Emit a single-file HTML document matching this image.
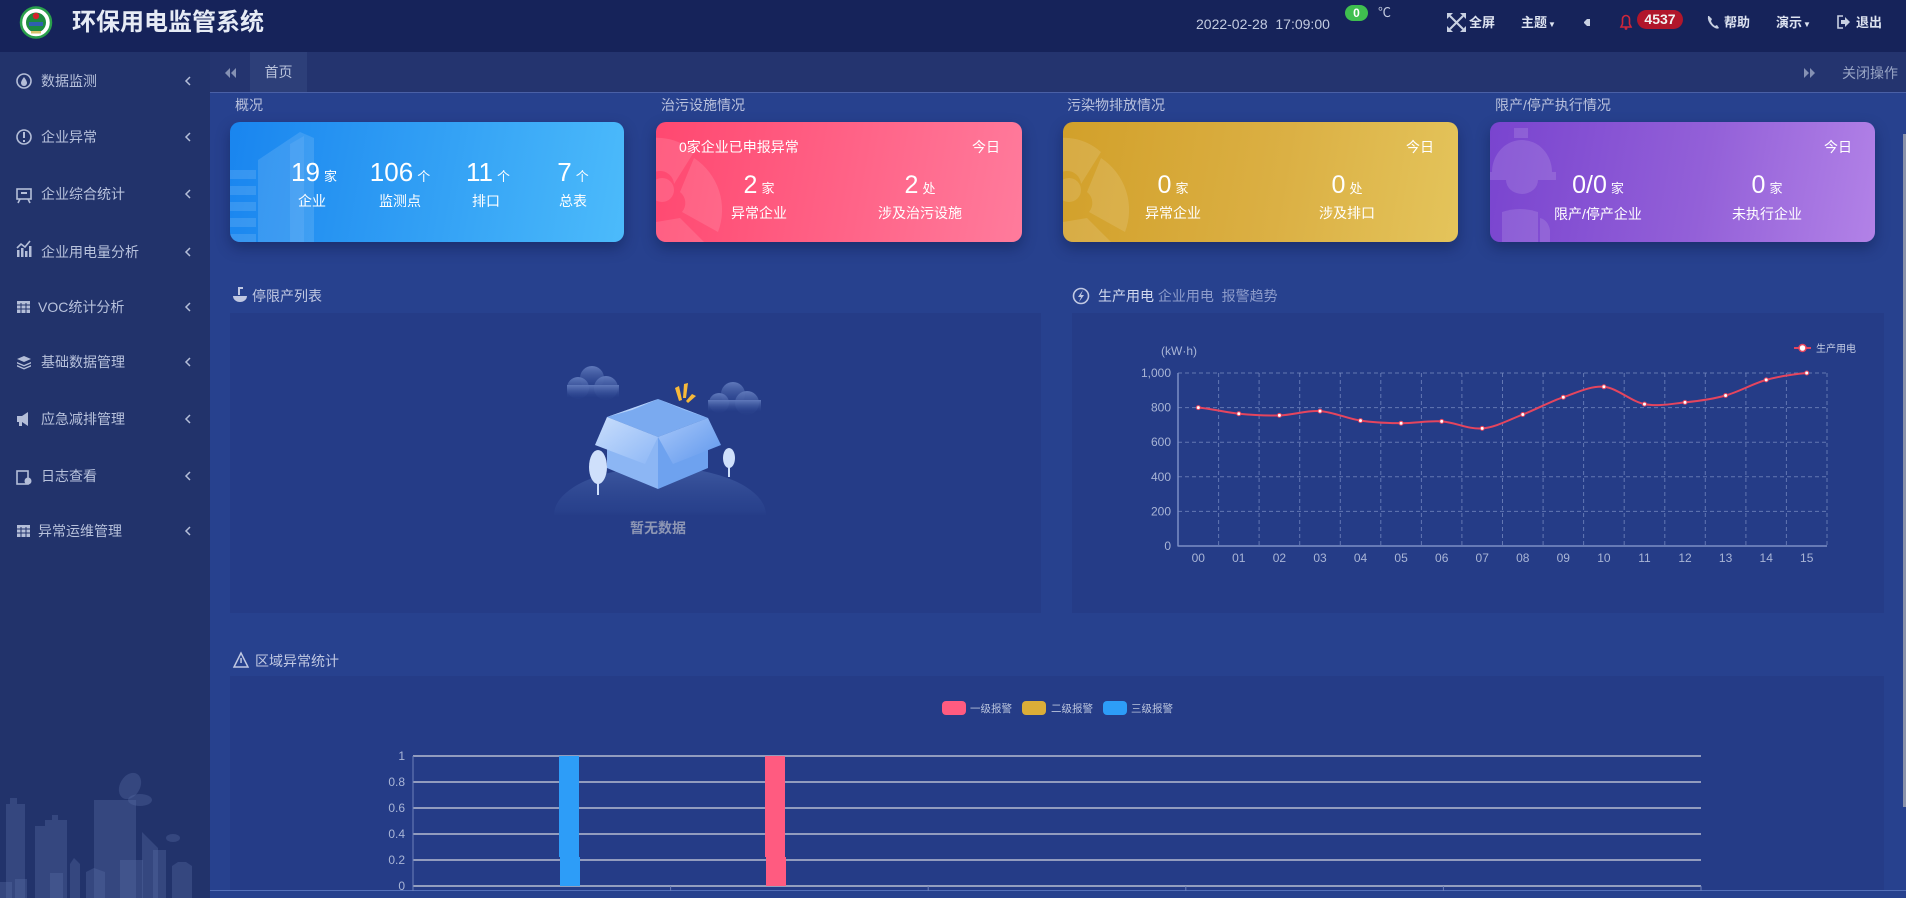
<!DOCTYPE html>
<html><head><meta charset="utf-8">
<style>
*{margin:0;padding:0;box-sizing:border-box}
html,body{width:1906px;height:898px;overflow:hidden;background:#27418e;font-family:"Liberation Sans","Noto Sans CJK SC",sans-serif}
.a{position:absolute;white-space:nowrap}
.menu{position:absolute;left:41px;font-size:14px;line-height:14px;color:#b8c2dc}
.sec{position:absolute;font-size:14px;line-height:14px;color:#b9c1dd}
.card{position:absolute;top:122px;height:120px;border-radius:10px;overflow:hidden;box-shadow:0 6px 14px rgba(5,15,50,.35)}
.col{position:absolute;width:160px;text-align:center;color:#fff;white-space:nowrap}
.num{font-size:26px;line-height:26px}
.unit{font-size:13px;margin-left:4px}
.lbl{position:absolute;width:160px;text-align:center;color:#fff;font-size:14px;line-height:14px;white-space:nowrap}
.panel{position:absolute;background:#253c87}
.hd{position:absolute;font-size:13px;line-height:13px;color:#dde3f0;font-weight:bold}
</style></head><body>

<!-- header -->
<div class="a" style="left:0;top:0;width:1906px;height:52px;background:#16235a"></div>
<div class="a" style="left:72px;top:11px;font-size:24px;line-height:24px;font-weight:bold;color:#e6ebf5;letter-spacing:0">环保用电监管系统</div>
<div class="a" style="left:1196px;top:17px;font-size:14px;line-height:14px;color:#c3cbe0">2022-02-28&nbsp;&nbsp;17:09:00</div>
<div class="a" style="left:1345px;top:5px;width:23px;height:16px;border-radius:8px;background:#3fbf4f;color:#fff;font-size:12px;line-height:16px;font-weight:bold;text-align:center">0</div>
<div class="a" style="left:1378px;top:6px;font-size:13px;line-height:13px;color:#c3cbe0">℃</div>
<div class="hd" style="left:1469px;top:16px">全屏</div>
<div class="hd" style="left:1521px;top:16px">主题<span style="font-size:8px;margin-left:1px">▼</span></div>
<div class="a" style="left:1637px;top:10px;width:46px;height:19px;border-radius:10px;background:#b1162b;color:#f2f2f2;font-size:14px;line-height:19px;font-weight:bold;text-align:center">4537</div>
<div class="hd" style="left:1724px;top:16px">帮助</div>
<div class="hd" style="left:1776px;top:16px">演示<span style="font-size:8px;margin-left:1px">▼</span></div>
<div class="hd" style="left:1856px;top:16px">退出</div>

<!-- sidebar -->
<div class="a" style="left:0;top:52px;width:210px;height:846px;background:#22336b"></div>
<div class="menu" style="top:74px">数据监测</div>
<div class="menu" style="top:130px">企业异常</div>
<div class="menu" style="top:187px">企业综合统计</div>
<div class="menu" style="top:245px">企业用电量分析</div>
<div class="menu" style="top:300px;left:38px">VOC统计分析</div>
<div class="menu" style="top:355px">基础数据管理</div>
<div class="menu" style="top:412px">应急减排管理</div>
<div class="menu" style="top:469px">日志查看</div>
<div class="menu" style="top:524px;left:38px">异常运维管理</div>

<!-- tab bar -->
<div class="a" style="left:210px;top:52px;width:1696px;height:41px;background:#24346f;border-bottom:1px solid #4a60a6"></div>
<div class="a" style="left:250px;top:52px;width:57px;height:40px;background:#2d3f79;color:#b9c3dc;font-size:14px;line-height:40px;text-align:center">首页</div>
<div class="a" style="left:1842px;top:66px;font-size:14px;line-height:14px;color:#98a4c4">关闭操作</div>

<!-- section titles -->
<div class="sec" style="left:235px;top:98px">概况</div>
<div class="sec" style="left:661px;top:98px">治污设施情况</div>
<div class="sec" style="left:1067px;top:98px">污染物排放情况</div>
<div class="sec" style="left:1495px;top:98px">限产/停产执行情况</div>

<!-- card 1 -->
<div class="card" style="left:230px;width:394px;background:linear-gradient(100deg,#1985ef 0%,#34a2f5 55%,#4cbbfb 100%)">
  <svg width="394" height="120" style="position:absolute;left:0;top:0">
    <g fill="rgba(255,255,255,0.12)">
      <polygon points="28,38 70,10 84,16 84,120 28,120"/>
      <polygon points="60,22 74,14 74,120 60,120" fill="rgba(255,255,255,0.08)"/>
      <rect x="0" y="48" width="26" height="9"/>
      <rect x="0" y="64" width="26" height="9"/>
      <rect x="0" y="80" width="26" height="9"/>
      <rect x="0" y="96" width="26" height="9"/>
      <rect x="0" y="112" width="26" height="8"/>
    </g>
  </svg>
</div>
<div class="col" style="left:234px;top:159px"><span class="num">19</span><span class="unit">家</span></div>
<div class="col" style="left:320px;top:159px"><span class="num">106</span><span class="unit">个</span></div>
<div class="col" style="left:408px;top:159px"><span class="num">11</span><span class="unit">个</span></div>
<div class="col" style="left:493px;top:159px"><span class="num">7</span><span class="unit">个</span></div>
<div class="lbl" style="left:232px;top:194px">企业</div>
<div class="lbl" style="left:320px;top:194px">监测点</div>
<div class="lbl" style="left:406px;top:194px">排口</div>
<div class="lbl" style="left:493px;top:194px">总表</div>

<!-- card 2 -->
<div class="card" style="left:656px;width:366px;background:linear-gradient(100deg,#ff4870 0%,#ff6488 55%,#ff7b9c 100%)">
  <svg width="366" height="120" style="position:absolute;left:0;top:0">
    <g fill="rgba(255,255,255,0.12)">
      <path d="M-20,20 A55,55 0 0 1 38,30 L18,62 A12,12 0 0 0 -10,64 Z"/>
      <path d="M38,36 A62,62 0 0 1 62,110 L26,90 A14,14 0 0 0 24,70 Z"/>
      <path d="M24,96 L48,120 L0,120 L0,100 Z"/>
      <circle cx="6" cy="68" r="12"/>
    </g>
  </svg>
</div>
<div class="a" style="left:679px;top:140px;color:#fff;font-size:14px;line-height:14px">0家企业已申报异常</div>
<div class="a" style="left:972px;top:140px;color:#fff;font-size:14px;line-height:14px">今日</div>
<div class="col" style="left:679px;top:172px"><span class="num" style="font-size:25px">2</span><span class="unit">家</span></div>
<div class="col" style="left:840px;top:172px"><span class="num" style="font-size:25px">2</span><span class="unit">处</span></div>
<div class="lbl" style="left:679px;top:206px">异常企业</div>
<div class="lbl" style="left:840px;top:206px">涉及治污设施</div>

<!-- card 3 -->
<div class="card" style="left:1063px;width:395px;background:linear-gradient(100deg,#d2a02a 0%,#dbb044 55%,#e4c45b 100%)">
  <svg width="395" height="120" style="position:absolute;left:0;top:0">
    <g fill="rgba(255,255,255,0.12)">
      <path d="M-20,20 A55,55 0 0 1 38,30 L18,62 A12,12 0 0 0 -10,64 Z"/>
      <path d="M38,36 A62,62 0 0 1 62,110 L26,90 A14,14 0 0 0 24,70 Z"/>
      <path d="M24,96 L48,120 L0,120 L0,100 Z"/>
      <circle cx="6" cy="68" r="12"/>
    </g>
  </svg>
</div>
<div class="a" style="left:1406px;top:140px;color:#fff;font-size:14px;line-height:14px">今日</div>
<div class="col" style="left:1093px;top:172px"><span class="num" style="font-size:25px">0</span><span class="unit">家</span></div>
<div class="col" style="left:1267px;top:172px"><span class="num" style="font-size:25px">0</span><span class="unit">处</span></div>
<div class="lbl" style="left:1093px;top:206px">异常企业</div>
<div class="lbl" style="left:1267px;top:206px">涉及排口</div>

<!-- card 4 -->
<div class="card" style="left:1490px;width:385px;background:linear-gradient(100deg,#7944cf 0%,#9360d8 55%,#b282e7 100%)">
  <svg width="385" height="120" style="position:absolute;left:0;top:0">
    <g fill="rgba(255,255,255,0.13)">
      <rect x="24" y="6" width="14" height="10"/>
      <path d="M2,50 A30,32 0 0 1 62,50 L66,50 L66,58 L0,58 L0,50 Z"/>
      <path d="M16,58 L48,58 A16,14 0 0 1 16,58 Z"/>
      <path d="M12,90 Q30,84 48,90 L48,120 L12,120 Z"/>
      <path d="M50,96 Q58,98 60,108 L60,120 L50,120 Z"/>
    </g>
  </svg>
</div>
<div class="a" style="left:1824px;top:140px;color:#fff;font-size:14px;line-height:14px">今日</div>
<div class="col" style="left:1518px;top:172px"><span class="num" style="font-size:25px">0/0</span><span class="unit">家</span></div>
<div class="col" style="left:1687px;top:172px"><span class="num" style="font-size:25px">0</span><span class="unit">家</span></div>
<div class="lbl" style="left:1518px;top:207px">限产/停产企业</div>
<div class="lbl" style="left:1687px;top:207px">未执行企业</div>

<!-- panels -->
<div class="panel" style="left:230px;top:313px;width:811px;height:300px"></div>
<div class="panel" style="left:1072px;top:313px;width:812px;height:300px"></div>
<div class="panel" style="left:230px;top:676px;width:1654px;height:215px"></div>
<div class="a" style="left:210px;top:890px;width:1696px;height:1px;background:#5570b8"></div>
<div class="a" style="left:1903px;top:134px;width:3px;height:673px;background:#8a92aa"></div>

<div class="sec" style="left:252px;top:289px;color:#c0c8e2">停限产列表</div>
<div class="a" style="left:1098px;top:289px;font-size:14px;line-height:14px;color:#d2d9ee">生产用电 <span style="color:#8d9ccb">企业用电</span>&nbsp; <span style="color:#8d9ccb">报警趋势</span></div>
<div class="sec" style="left:255px;top:654px;color:#c0c8e2">区域异常统计</div>

<svg class="a" style="left:0;top:0" width="1906" height="898" xmlns="http://www.w3.org/2000/svg" font-family="Liberation Sans, Noto Sans CJK SC, sans-serif">
  <defs>
    <linearGradient id="hill" x1="0" y1="0" x2="0" y2="1">
      <stop offset="0" stop-color="#4662a8" stop-opacity="0.75"/>
      <stop offset="0.45" stop-color="#2f4a95" stop-opacity="0.35"/>
      <stop offset="0.55" stop-color="#253c87" stop-opacity="0"/>
    </linearGradient>
    <clipPath id="hillclip"><rect x="540" y="460" width="240" height="55"/></clipPath>
    <linearGradient id="cloud" x1="0" y1="0" x2="0" y2="1">
      <stop offset="0" stop-color="#6a84c4"/>
      <stop offset="1" stop-color="#2b4590" stop-opacity="0.2"/>
    </linearGradient>
    <linearGradient id="bl" x1="0" y1="0" x2="1" y2="1">
      <stop offset="0" stop-color="#c9defc"/>
      <stop offset="1" stop-color="#8db7f6"/>
    </linearGradient>
    <linearGradient id="br" x1="0" y1="0" x2="1" y2="1">
      <stop offset="0" stop-color="#a8c8fa"/>
      <stop offset="1" stop-color="#5f97ec"/>
    </linearGradient>
  </defs>

  <!-- logo -->
  <circle cx="36" cy="22.5" r="15" fill="#ffffff" stroke="#2aa04c" stroke-width="2.5"/>
  <circle cx="36" cy="22.5" r="10" fill="#1c8a40"/>
  <circle cx="36" cy="16" r="3.2" fill="#d4222c"/>
  <rect x="29" y="22" width="14" height="4" fill="#2f5fb0"/>
  <rect x="31" y="31" width="10" height="2.5" fill="#d7c36a"/>

  <!-- header icons -->
  <g stroke="#c8d0e2" stroke-width="2" fill="#c8d0e2">
    <line x1="1450" y1="16" x2="1463" y2="29"/><line x1="1463" y1="16" x2="1450" y2="29"/>
    <polygon points="1447,13 1453,13 1447,19" stroke="none"/>
    <polygon points="1466,13 1460,13 1466,19" stroke="none"/>
    <polygon points="1447,32 1453,32 1447,26" stroke="none"/>
    <polygon points="1466,32 1460,32 1466,26" stroke="none"/>
  </g>
  <polygon points="1584,22 1587,19 1590,19 1590,26 1587,26 1584,23" fill="#c8d0e2"/>
  <path d="M1621,27 L1631,27 L1629.5,24 L1629.5,19 A3.5,3.5 0 0 0 1622.5,19 L1622.5,24 Z" fill="none" stroke="#d0263a" stroke-width="1.6"/>
  <circle cx="1626" cy="28.5" r="1.4" fill="#d0263a"/>
  <path d="M1708,16 q-1,5 4,10 q5,4 7,2 l-2,-3 l-2,1 q-3,-2 -4,-5 l1,-2 l-3,-3z" fill="#c8d0e2"/>
  <g fill="none" stroke="#c8d0e2" stroke-width="1.6">
    <path d="M1843,16 L1838,16 L1838,28 L1843,28"/>
  </g>
  <polygon points="1841,20 1845,20 1845,17 1850,22 1845,27 1845,24 1841,24" fill="#c8d0e2"/>

  <!-- tab arrows -->
  <polygon points="230,68 230,78 225,73" fill="#8591b4"/><polygon points="236,68 236,78 231,73" fill="#8591b4"/>
  <polygon points="1804,68 1804,78 1809,73" fill="#8591b4"/><polygon points="1810,68 1810,78 1815,73" fill="#8591b4"/>

  <!-- sidebar icons -->
  <g fill="none" stroke="#b4bed8" stroke-width="1.6">
    <circle cx="24" cy="81" r="7"/>
    <circle cx="24" cy="137" r="7"/>
    <rect x="17" y="189" width="14" height="10"/>
    <line x1="20" y1="199" x2="18" y2="203"/><line x1="28" y1="199" x2="30" y2="203"/>
    <polyline points="17,248 21,244 25,247 30,241"/>
    <rect x="17" y="471" width="11" height="13"/>
  </g>
  <g fill="#b4bed8">
    <path d="M24,77 q3,4 3,6 a3,3 0 0 1 -6,0 q0,-2 3,-6z"/>
    <rect x="23" y="132" width="2" height="6"/><rect x="23" y="140" width="2" height="2"/>
    <rect x="21" y="192" width="6" height="2"/>
    <rect x="17" y="250" width="2.5" height="7"/><rect x="21" y="248" width="2.5" height="9"/><rect x="25" y="251" width="2.5" height="6"/><rect x="29" y="246" width="2.5" height="11"/>
    <rect x="17" y="301" width="13" height="12"/>
    <polygon points="24,356 31,359 24,362 17,359"/>
    <polygon points="17,362 24,365 31,362 31,363.5 24,366.5 17,363.5"/>
    <polygon points="17,365 24,368 31,365 31,366.5 24,369.5 17,366.5"/>
    <polygon points="17,416 22,416 28,412 28,426 22,422 17,422"/>
    <rect x="19" y="422" width="3" height="4"/>
    <circle cx="28" cy="481" r="3.5"/>
    <rect x="17" y="525" width="13" height="12"/>
  </g>
  <g stroke="#22336b" stroke-width="1">
    <line x1="17" y1="305" x2="30" y2="305"/><line x1="17" y1="309" x2="30" y2="309"/><line x1="21" y1="303" x2="21" y2="313"/><line x1="26" y1="303" x2="26" y2="313"/>
    <line x1="17" y1="529" x2="30" y2="529"/><line x1="17" y1="533" x2="30" y2="533"/><line x1="21" y1="527" x2="21" y2="537"/><line x1="26" y1="527" x2="26" y2="537"/>
  </g>
  <g fill="none" stroke="#b4bed8" stroke-width="1.5">
    <polyline points="190,77 186,81 190,85"/>
    <polyline points="190,133 186,137 190,141"/>
    <polyline points="190,190 186,194 190,198"/>
    <polyline points="190,248 186,252 190,256"/>
    <polyline points="190,303 186,307 190,311"/>
    <polyline points="190,358 186,362 190,366"/>
    <polyline points="190,415 186,419 190,423"/>
    <polyline points="190,472 186,476 190,480"/>
    <polyline points="190,527 186,531 190,535"/>
  </g>

  <!-- sidebar city -->
  <g fill="#5a6ea6" fill-opacity="0.35">
    <polygon points="6,898 6,804 10,804 10,798 17,798 17,804 25,804 25,898"/>
    <polygon points="35,898 35,826 45,826 45,820 52,820 52,815 58,815 58,820 67,820 67,898"/>
    <rect x="94" y="800" width="42" height="98"/>
    <rect x="120" y="860" width="23" height="38"/>
    <polygon points="142,898 142,832 158,848 158,898"/>
    <rect x="153" y="850" width="13" height="48"/>
    <polygon points="172,898 172,866 178,862 186,862 192,866 192,898"/>
    <polygon points="70,898 70,864 74,858 80,864 80,898"/>
    <polygon points="86,898 86,872 94,868 105,872 105,898"/>
    <rect x="0" y="882" width="12" height="16"/>
    <rect x="15" y="879" width="12" height="19"/>
    <rect x="50" y="873" width="13" height="25"/>
    <ellipse cx="130" cy="786" rx="10" ry="14" transform="rotate(30 130 786)"/>
    <ellipse cx="140" cy="800" rx="12" ry="6"/>
    <ellipse cx="173" cy="838" rx="7" ry="4"/>
  </g>

  <!-- panel title icons -->
  <g fill="#c0c8e2">
    <rect x="238" y="287" width="5" height="2"/><rect x="238" y="287" width="2" height="8"/>
    <path d="M233,296 L247,296 A7,6 0 0 1 233,296 Z"/>
  </g>
  <circle cx="1081" cy="296" r="7.5" fill="none" stroke="#c0c8e2" stroke-width="1.6"/>
  <polygon points="1083,290 1078,297 1081,297 1079,302 1084,295 1081,295" fill="#c0c8e2"/>
  <polygon points="241,653 234,667 248,667" fill="none" stroke="#c0c8e2" stroke-width="1.5"/>
  <rect x="240.3" y="658" width="1.5" height="5" fill="#c0c8e2"/>

  <!-- empty illustration -->
  <g clip-path="url(#hillclip)">
    <ellipse cx="660" cy="515" rx="106" ry="48" fill="url(#hill)"/>
  </g>
  <g fill="url(#cloud)" opacity="0.85">
    <circle cx="592" cy="378" r="12"/><circle cx="578" cy="388" r="11"/><circle cx="606" cy="388" r="12"/><rect x="567" y="385" width="52" height="12"/>
    <circle cx="733" cy="394" r="12"/><circle cx="719" cy="403" r="10"/><circle cx="747" cy="403" r="12"/><rect x="708" y="400" width="53" height="11"/>
  </g>
  <g fill="#f7b93a">
    <polygon points="675,388 679,386 682,400 679,401"/>
    <polygon points="684,384 688,383 686,398 683,398"/>
    <polygon points="692,394 696,396 688,403 686,401"/>
  </g>
  <polygon points="607,417 658,437 658,489 607,468" fill="#8cb6f4"/>
  <polygon points="658,437 708,418 708,468 658,489" fill="#6ea2ef"/>
  <polygon points="658,399 708,418 658,437 607,417" fill="#7aaaf0"/>
  <polygon points="607,417 658,437 645,464 595,445" fill="url(#bl)"/>
  <polygon points="708,418 721,445 673,464 658,437" fill="url(#br)"/>
  <polygon points="658,399 607,417 632,410" fill="#b7d2fa"/>
  <polygon points="658,399 708,418 684,410" fill="#98bff7"/>
  <ellipse cx="598" cy="467" rx="9" ry="17" fill="#cfe0fb"/>
  <rect x="597" y="480" width="2" height="15" fill="#cfe0fb"/>
  <ellipse cx="729" cy="458" rx="6" ry="10" fill="#cfe0fb"/>
  <rect x="728" y="465" width="2" height="12" fill="#cfe0fb"/>
  <text x="658" y="533" font-size="14" font-weight="bold" fill="#8d96b4" text-anchor="middle">暂无数据</text>

  <!-- line chart -->
  <g stroke="#7e90c4" stroke-opacity="0.7" stroke-width="1" stroke-dasharray="4,3" fill="none">
    <line x1="1178" y1="373" x2="1827" y2="373"/>
    <line x1="1178" y1="407.6" x2="1827" y2="407.6"/>
    <line x1="1178" y1="442.2" x2="1827" y2="442.2"/>
    <line x1="1178" y1="476.8" x2="1827" y2="476.8"/>
    <line x1="1178" y1="511.4" x2="1827" y2="511.4"/>
    <line x1="1218.6" y1="373" x2="1218.6" y2="546"/>
    <line x1="1259.1" y1="373" x2="1259.1" y2="546"/>
    <line x1="1299.7" y1="373" x2="1299.7" y2="546"/>
    <line x1="1340.3" y1="373" x2="1340.3" y2="546"/>
    <line x1="1380.8" y1="373" x2="1380.8" y2="546"/>
    <line x1="1421.4" y1="373" x2="1421.4" y2="546"/>
    <line x1="1461.9" y1="373" x2="1461.9" y2="546"/>
    <line x1="1502.5" y1="373" x2="1502.5" y2="546"/>
    <line x1="1543.1" y1="373" x2="1543.1" y2="546"/>
    <line x1="1583.6" y1="373" x2="1583.6" y2="546"/>
    <line x1="1624.2" y1="373" x2="1624.2" y2="546"/>
    <line x1="1664.8" y1="373" x2="1664.8" y2="546"/>
    <line x1="1705.3" y1="373" x2="1705.3" y2="546"/>
    <line x1="1745.9" y1="373" x2="1745.9" y2="546"/>
    <line x1="1786.4" y1="373" x2="1786.4" y2="546"/>
    <line x1="1827" y1="373" x2="1827" y2="546"/>
  </g>
  <g stroke="#7d8fc6" stroke-width="1.5">
    <line x1="1178" y1="373" x2="1178" y2="546.5"/>
    <line x1="1178" y1="546" x2="1827" y2="546"/>
  </g>
  <g font-size="12" fill="#a9b5d6" text-anchor="end">
    <text x="1171" y="377">1,000</text>
    <text x="1171" y="411.6">800</text>
    <text x="1171" y="446.2">600</text>
    <text x="1171" y="480.8">400</text>
    <text x="1171" y="515.4">200</text>
    <text x="1171" y="550">0</text>
  </g>
  <text x="1179" y="355" font-size="12" fill="#a9b5d6" text-anchor="middle">(kW·h)</text>
  <g font-size="12" fill="#a9b5d6" text-anchor="middle">
    <text x="1198.3" y="562">00</text><text x="1238.8" y="562">01</text><text x="1279.4" y="562">02</text><text x="1320" y="562">03</text>
    <text x="1360.5" y="562">04</text><text x="1401.1" y="562">05</text><text x="1441.7" y="562">06</text><text x="1482.2" y="562">07</text>
    <text x="1522.8" y="562">08</text><text x="1563.3" y="562">09</text><text x="1603.9" y="562">10</text><text x="1644.5" y="562">11</text>
    <text x="1685" y="562">12</text><text x="1725.6" y="562">13</text><text x="1766.2" y="562">14</text><text x="1806.7" y="562">15</text>
  </g>
  <path d="M1198.3,407.6 C1211.8,408.6 1225.3,412.4 1238.8,413.7 C1252.3,415.0 1265.9,415.8 1279.4,415.4 C1292.9,415.0 1306.5,410.2 1320.0,411.1 C1333.5,412.0 1347.0,418.6 1360.5,420.6 C1374.0,422.6 1387.6,423.1 1401.1,423.2 C1414.6,423.3 1428.2,420.5 1441.7,421.4 C1455.2,422.3 1468.7,429.6 1482.2,428.4 C1495.7,427.3 1509.3,419.7 1522.8,414.5 C1536.3,409.3 1549.8,401.8 1563.3,397.2 C1576.8,392.6 1590.4,385.7 1603.9,386.8 C1617.4,388.0 1631.0,401.5 1644.5,404.1 C1658.0,406.7 1671.5,403.8 1685.0,402.4 C1698.5,401.0 1712.1,399.3 1725.6,395.5 C1739.1,391.8 1752.7,383.7 1766.2,379.9 C1779.7,376.2 1793.2,374.2 1806.7,373.0" fill="none" stroke="#e5455e" stroke-width="2"/>
  <g fill="#ffffff" stroke="#e5455e" stroke-width="1">
    <circle cx="1198.3" cy="407.6" r="2"/><circle cx="1238.8" cy="413.7" r="2"/><circle cx="1279.4" cy="415.4" r="2"/><circle cx="1320" cy="411.1" r="2"/>
    <circle cx="1360.5" cy="420.6" r="2"/><circle cx="1401.1" cy="423.2" r="2"/><circle cx="1441.7" cy="421.4" r="2"/><circle cx="1482.2" cy="428.4" r="2"/>
    <circle cx="1522.8" cy="414.5" r="2"/><circle cx="1563.3" cy="397.2" r="2"/><circle cx="1603.9" cy="386.8" r="2"/><circle cx="1644.5" cy="404.1" r="2"/>
    <circle cx="1685" cy="402.4" r="2"/><circle cx="1725.6" cy="395.5" r="2"/><circle cx="1766.2" cy="379.9" r="2"/><circle cx="1806.7" cy="373" r="2"/>
  </g>
  <line x1="1794" y1="348" x2="1811" y2="348" stroke="#e5455e" stroke-width="2"/>
  <circle cx="1802.5" cy="348" r="3.5" fill="#fff" stroke="#e5455e" stroke-width="1.5"/>
  <text x="1816" y="352" font-size="10" fill="#c3cbe3">生产用电</text>

  <!-- bar chart -->
  <rect x="942" y="701" width="24" height="14" rx="4" fill="#ff5b80"/>
  <text x="970" y="712" font-size="10.5" fill="#b9c3dc">一级报警</text>
  <rect x="1022" y="701" width="24" height="14" rx="4" fill="#dbad38"/>
  <text x="1051" y="712" font-size="10.5" fill="#b9c3dc">二级报警</text>
  <rect x="1103" y="701" width="24" height="14" rx="4" fill="#2d9df8"/>
  <text x="1131" y="712" font-size="10.5" fill="#b9c3dc">三级报警</text>
  <g stroke="#d3d6de" stroke-width="1.3">
    <line x1="413" y1="756" x2="1701" y2="756"/>
    <line x1="413" y1="782" x2="1701" y2="782"/>
    <line x1="413" y1="808" x2="1701" y2="808"/>
    <line x1="413" y1="834" x2="1701" y2="834"/>
    <line x1="413" y1="860" x2="1701" y2="860"/>
  </g>
  <line x1="413" y1="886" x2="1701" y2="886" stroke="#b8bfd0" stroke-width="1.5"/>
  <line x1="413" y1="756" x2="413" y2="886" stroke="#6d80b8" stroke-width="1"/>
  <g stroke="#6d80b8" stroke-width="1">
    <line x1="413" y1="886" x2="413" y2="891"/><line x1="670.6" y1="886" x2="670.6" y2="891"/><line x1="928.2" y1="886" x2="928.2" y2="891"/>
    <line x1="1185.8" y1="886" x2="1185.8" y2="891"/><line x1="1443.4" y1="886" x2="1443.4" y2="891"/><line x1="1701" y1="886" x2="1701" y2="891"/>
  </g>
  <g font-size="12" fill="#a9b5d6" text-anchor="end">
    <text x="405" y="760">1</text><text x="405" y="786">0.8</text><text x="405" y="812">0.6</text>
    <text x="405" y="838">0.4</text><text x="405" y="864">0.2</text><text x="405" y="890">0</text>
  </g>
  <rect x="559" y="756" width="20" height="101" fill="#2d9df8"/>
  <rect x="560" y="857" width="20" height="29" fill="#2d9df8"/>
  <rect x="765" y="756" width="20" height="101" fill="#ff5b80"/>
  <rect x="766" y="857" width="20" height="29" fill="#ff5b80"/>
</svg>
</body></html>
